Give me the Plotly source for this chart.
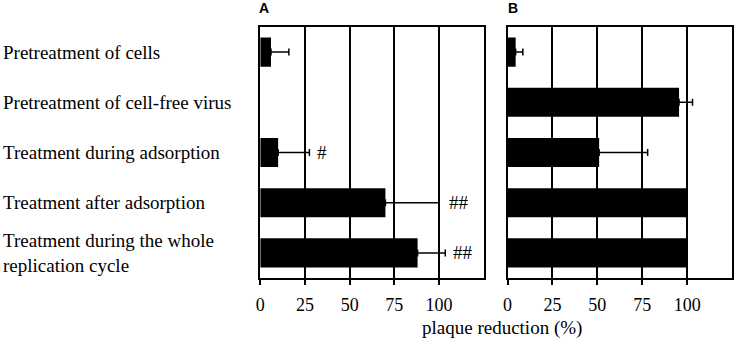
import plotly.graph_objects as go

categories = [
    "Pretreatment of cells",
    "Pretreatment of cell-free virus",
    "Treatment during adsorption",
    "Treatment after adsorption",
    "Treatment during the whole<br>replication cycle",
]
values_a = [6, 0, 10, 70, 88]
errors_a = [10, 0, 17.5, 30, 15.5]
marks_a = ["", "", "#", "##", "##"]
values_b = [4.5, 95.5, 51, 100, 100]
errors_b = [4, 7.5, 27, 0, 0]
x_ticks = [0, 25, 50, 75, 100]
panel_labels = ["A", "B"]
x_title = "plaque reduction (%)"

W, H = 737, 343
SERIF = "Liberation Serif, Times New Roman, serif"


def px_x(p):
    return p / W


def px_y(p):
    return 1 - p / H


fig = go.Figure()
for i, (vals, errs) in enumerate([(values_a, errors_a), (values_b, errors_b)]):
    sfx = "" if i == 0 else str(i + 1)
    fig.add_trace(go.Bar(
        x=vals, y=categories, orientation="h",
        marker=dict(color="black", line=dict(width=0)),
        xaxis="x" + sfx, yaxis="y" + sfx, showlegend=False,
        hoverinfo="skip",
    ))
    idx = [k for k, e in enumerate(errs) if e > 0]
    fig.add_trace(go.Scatter(
        x=[vals[k] for k in idx], y=[categories[k] for k in idx],
        mode="markers", marker=dict(size=1, opacity=0),
        error_x=dict(type="data", symmetric=False,
                     array=[errs[k] for k in idx],
                     arrayminus=[0] * len(idx),
                     color="black", thickness=1.5, width=3.5, visible=True),
        xaxis="x" + sfx, yaxis="y" + sfx, showlegend=False,
        hoverinfo="skip",
    ))

axis_common = dict(
    range=[0, 125], tickvals=x_ticks, ticks="outside", ticklen=5,
    tickwidth=1.5, tickcolor="black", showgrid=True, gridcolor="black",
    gridwidth=1.5, zeroline=False, showline=True, linecolor="black",
    linewidth=1.5, mirror=True, ticklabelstandoff=5,
    tickfont=dict(family=SERIF, size=18, color="black"),
)
yaxis_common = dict(
    categoryorder="array", categoryarray=categories[::-1],
    range=[-0.5, 4.5], showticklabels=False, ticks="", showgrid=False,
    zeroline=False, showline=True, linecolor="black", linewidth=1.5,
    mirror=True, domain=[px_y(278), px_y(27)],
)

annotations = []
for cat in categories:
    annotations.append(dict(
        x=px_x(-4), xref="paper", y=cat, yref="y", text=cat,
        xanchor="left", yanchor="middle", align="left", showarrow=False,
        font=dict(family=SERIF, size=19, color="black"),
    ))
for cat, v, e, m in zip(categories, values_a, errors_a, marks_a):
    if m:
        xpos = v + e + 3 if m == "#" else max(v + e + 3, 104.5)
        annotations.append(dict(
            x=xpos, xref="x", y=cat, yref="y", text=m, xanchor="left",
            yanchor="middle", showarrow=False,
            font=dict(family=SERIF, size=19, color="black"),
        ))
for lab, xp in zip(panel_labels, [254, 504]):
    annotations.append(dict(
        x=px_x(xp), xref="paper", y=px_y(8), yref="paper", text="<b>%s</b>" % lab,
        xanchor="left", yanchor="middle", showarrow=False,
        font=dict(family="Liberation Sans, Arial, sans-serif", size=14, color="black"),
    ))
annotations.append(dict(
    x=px_x(500), xref="paper", y=px_y(328), yref="paper", text=x_title,
    xanchor="center", yanchor="middle", showarrow=False,
    font=dict(family=SERIF, size=19, color="black"),
))

fig.update_layout(
    width=W, height=H, margin=dict(l=0, r=0, t=0, b=0),
    paper_bgcolor="white", plot_bgcolor="white", bargap=0.42,
    xaxis=dict(domain=[px_x(257), px_x(482)], anchor="y", **axis_common),
    xaxis2=dict(domain=[px_x(506), px_x(732)], anchor="y2", **axis_common),
    yaxis=dict(anchor="x", **yaxis_common),
    yaxis2=dict(anchor="x2", **yaxis_common),
    annotations=annotations,
)

fig.write_html("out.html", config={"displayModeBar": False},
               post_script="document.body.style.margin='0';")
